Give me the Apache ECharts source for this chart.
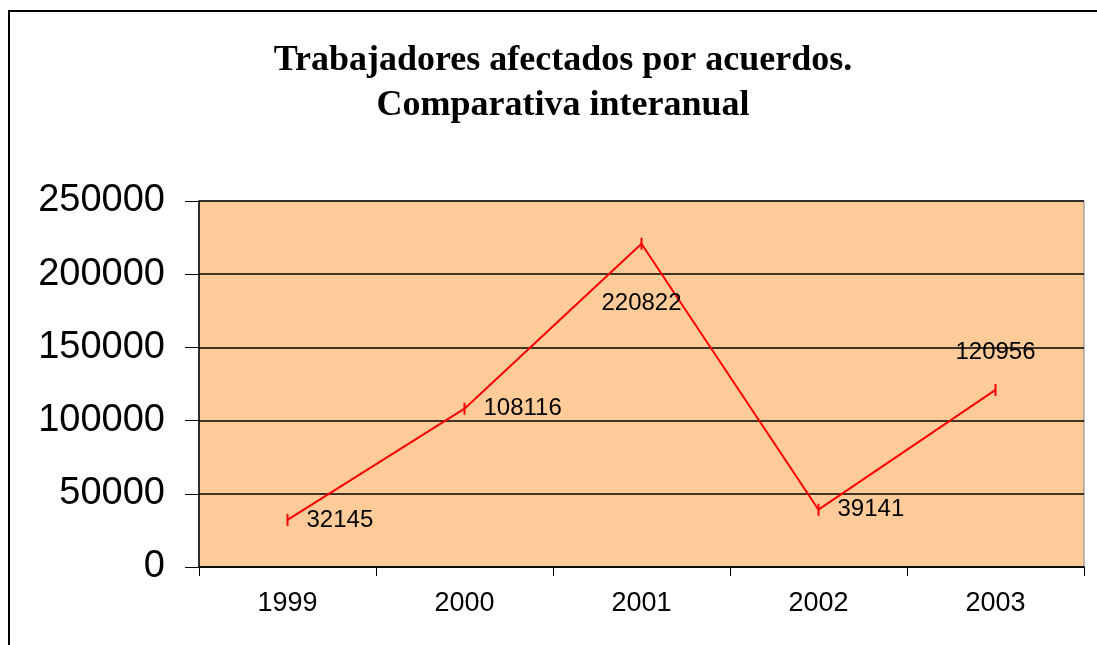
<!DOCTYPE html>
<html>
<head>
<meta charset="utf-8">
<script src="https://cdn.jsdelivr.net/npm/echarts@6/dist/echarts.min.js"></script>
<style>
  html, body { margin: 0; padding: 0; background: #fff; }
  #main { width: 1097px; height: 645px; }
</style>
</head>
<body>
<div id="main"></div>
<script type="text/javascript">
  var years = ['1999', '2000', '2001', '2002', '2003'];
  var workers = [32145, 108116, 220822, 39141, 120956];
  var yTicks = { min: 0, max: 250000, interval: 50000 };
  // where Excel put each data label
  var labelPlace = [
    { position: 'right', distance: 18 },
    { position: 'right', distance: 18 },
    { position: 'bottom', distance: 42 },
    { position: 'right', distance: 18 },
    { position: 'top', distance: 20 }
  ];

  var chart = echarts.init(document.getElementById('main'));

  var seriesData = workers.map(function (v, i) {
    return { value: v, label: labelPlace[i] };
  });

  chart.setOption({
    animation: false,
    backgroundColor: '#ffffff',
    title: {
      text: 'Trabajadores afectados por acuerdos.\nComparativa interanual',
      left: 558,
      textAlign: 'center',
      top: 33,
      textStyle: {
        fontFamily: 'Liberation Serif',
        fontWeight: 'bold',
        fontSize: 36,
        lineHeight: 45,
        color: '#000'
      }
    },
    graphic: [{
      type: 'rect',
      shape: { x: 9, y: 11, width: 1200, height: 1000 },
      style: { fill: 'none', stroke: '#000', lineWidth: 2 },
      silent: true
    }],
    grid: {
      left: 199,
      right: 13,
      top: 201,
      bottom: 78,
      show: true,
      backgroundColor: '#FFCC99',
      borderColor: '#808080',
      borderWidth: 1
    },
    xAxis: {
      type: 'category',
      data: years,
      boundaryGap: true,
      axisLine: { lineStyle: { color: '#000', width: 1.5 } },
      axisTick: { show: true, length: 9, lineStyle: { color: '#000' } },
      axisLabel: {
        fontFamily: 'Liberation Sans',
        fontSize: 27,
        color: '#000',
        margin: 23
      }
    },
    yAxis: {
      type: 'value',
      min: yTicks.min,
      max: yTicks.max,
      interval: yTicks.interval,
      axisLine: { show: true, lineStyle: { color: '#000', width: 1.5 } },
      axisTick: { show: true, length: 14, lineStyle: { color: '#000' } },
      splitLine: { lineStyle: { color: '#000', width: 1.5 } },
      axisLabel: {
        fontFamily: 'Liberation Sans',
        fontSize: 38,
        color: '#000',
        margin: 34,
        formatter: function (v) { return String(v); }
      }
    },
    series: [{
      type: 'line',
      data: seriesData,
      lineStyle: { color: '#FF0000', width: 2 },
      itemStyle: { color: '#FF0000' },
      symbol: 'rect',
      symbolSize: [2, 12],
      label: {
        show: true,
        fontFamily: 'Liberation Sans',
        fontSize: 24,
        color: '#000'
      }
    }]
  });
</script>
</body>
</html>
